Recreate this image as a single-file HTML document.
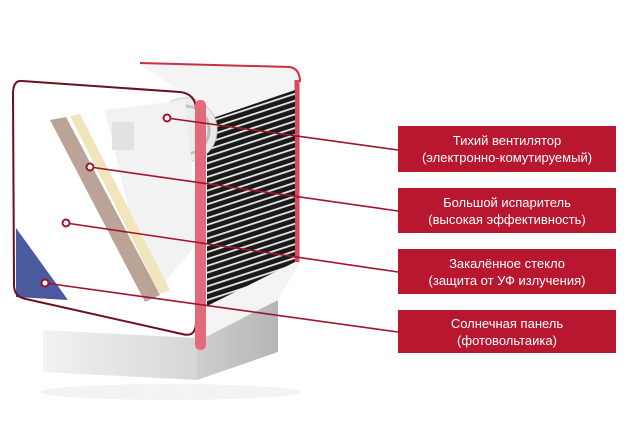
<!DOCTYPE html>
<html><head><meta charset="utf-8"><style>
html,body{margin:0;padding:0;background:#fff;width:640px;height:431px;overflow:hidden}
.box{position:absolute;left:398px;width:218px;background:#b8172f;color:#fff;font-family:"Liberation Sans",sans-serif;font-size:13px;line-height:17px;text-align:center;display:flex;align-items:center;justify-content:center;flex-direction:column}
</style></head><body>
<svg width="640" height="431" style="position:absolute;left:0;top:0">
<defs>
<linearGradient id="base" x1="0" y1="0" x2="1" y2="0"><stop offset="0" stop-color="#f2f2f2"/><stop offset="1" stop-color="#d6d6d6"/></linearGradient>
<linearGradient id="side" x1="0" y1="0" x2="1" y2="0"><stop offset="0" stop-color="#cfcfcf"/><stop offset="1" stop-color="#b5b5b5"/></linearGradient>
<pattern id="fins" width="6" height="6.5" patternUnits="userSpaceOnUse" patternTransform="rotate(-18)">
<rect width="6" height="6.5" fill="#1a1a1a"/><rect y="4" width="6" height="1.8" fill="#e8e8e8"/></pattern>
<clipPath id="fc"><polygon points="207,120 295,90 295,262 207,306"/></clipPath>
</defs>
<ellipse cx="170" cy="392" rx="130" ry="8" fill="#f3f3f3"/>
<!-- base -->
<polygon points="43,330 197,338 197,380 43,372" fill="url(#base)"/>
<polygon points="197,338 278,300 278,352 197,380" fill="url(#side)"/>
<!-- top/back body -->
<path d="M137,63 L290,66 Q300,68 300,80 L300,262 L278,300 L200,340 L195,100 Z" fill="#f4f4f4"/>
<path d="M140,63 L290,67 Q300,69 300,82" fill="none" stroke="#c93045" stroke-width="2"/>
<path d="M297,80 L297,262" fill="none" stroke="#d84a5e" stroke-width="5"/>
<!-- fins -->
<rect x="200" y="85" width="100" height="225" fill="url(#fins)" clip-path="url(#fc)"/>
<!-- inner parts -->
<circle cx="185" cy="130" r="32" fill="#e9e9e9" stroke="#ccc"/>
<circle cx="185" cy="130" r="24" fill="none" stroke="#bbb" stroke-width="3"/>
<polygon points="105,110 185,100 200,240 150,300" fill="#f0f0f0"/>
<polygon points="50,120 66,117 160,295 145,302" fill="#9b7a66" opacity="0.8"/>
<polygon points="70,116 80,114 170,290 160,294" fill="#efe2b0"/>
<rect x="112" y="122" width="22" height="28" fill="#ddd"/>
<!-- solar -->
<polygon points="16,228 16,297 68,300" fill="#2c3c8e"/>
<!-- front frame -->
<path d="M22,81 L180,92 Q196,94 196,110 L196,322 Q196,338 182,334 L26,299 Q14,297 14,285 L13,94 Q13,80 22,81 Z" fill="rgba(255,255,255,0.15)" stroke="#6e0f1e" stroke-width="2"/>
<rect x="195" y="100" width="11" height="250" rx="5" fill="#e36a7b"/>
<!-- leaders -->
<g stroke="#a0142b" stroke-width="1.6" fill="none">
<line x1="167" y1="118" x2="398" y2="150"/>
<line x1="90" y1="167" x2="398" y2="211"/>
<line x1="66" y1="223" x2="398" y2="272"/>
<line x1="45" y1="283" x2="398" y2="332"/>
</g>
<g fill="#fff" stroke="#a0142b" stroke-width="2">
<circle cx="167" cy="118" r="3.5"/><circle cx="90" cy="167" r="3.5"/>
<circle cx="66" cy="223" r="3.5"/><circle cx="45" cy="283" r="3.5"/>
</g>
</svg>
<div class="box" style="top:126px;height:46px">Тихий вентилятор<br>(электронно-комутируемый)</div>
<div class="box" style="top:188px;height:45px">Большой испаритель<br>(высокая эффективность)</div>
<div class="box" style="top:249px;height:45px">Закалённое стекло<br>(защита от УФ излучения)</div>
<div class="box" style="top:310px;height:43px">Солнечная панель<br>(фотовольтаика)</div>
</body></html>
